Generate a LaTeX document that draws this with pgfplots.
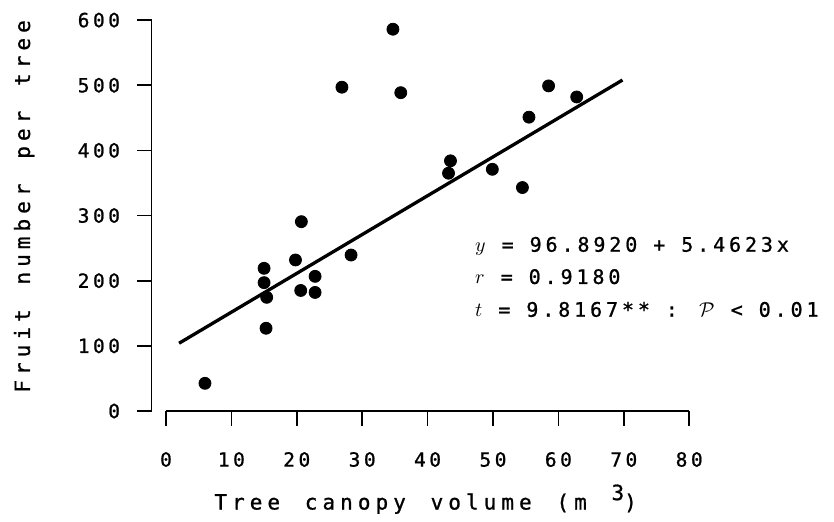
\documentclass[border=0pt]{standalone}
\usepackage{fontspec}
\setmainfont{DejaVu Sans Mono}[LetterSpace=18, FakeBold=1]
\newfontfamily\labfont{DejaVu Sans Mono}[LetterSpace=24, WordSpace=1.4, FakeBold=1]
\newfontfamily\annfont{DejaVu Sans Mono}[LetterSpace=19.5, FakeBold=1]
\usepackage{pgfplots}
\pgfplotsset{compat=1.18}

\begin{document}
\begin{tikzpicture}
\begin{axis}[
  x=3.27pt, y=0.32575pt,
  xmin=0, xmax=80, ymin=0, ymax=600,
  axis x line=bottom, axis y line=left,
  axis line style={-, line width=0.8pt},
  axis y line shift=7.15pt,
  xtick={0,10,...,80}, ytick={0,100,...,600},
  tick align=outside, major tick length=7.3pt,
  tick style={line width=0.8pt, black},
  font=\fontsize{9.75}{11}\selectfont,
  /pgf/number format/assume math mode=true,
  xticklabel style={anchor=base, yshift=-20.5pt},
  yticklabel style={anchor=east, xshift=-5pt},
  clip=false,
  xlabel={\labfont\fontsize{10.5}{12}\selectfont Tree canopy volume (m \raisebox{0.45em}{3})},
  xlabel style={at={(axis cs:39.7,-151.2)}, anchor=base},
  ylabel={\labfont\fontsize{10.5}{12}\selectfont Fruit number per tree},
  ylabel style={at={(axis cs:-20.8,314)}, anchor=base},
]
% observations
\addplot[only marks, mark=*, mark size=3pt, black] coordinates {
  (5.96,42.5) (15.0,219) (15.0,197) (15.4,174.5) (15.3,127)
  (20.7,290.6) (19.8,231.8) (20.6,185) (22.8,206.7) (22.8,182)
  (28.3,239.4) (26.9,497) (34.7,586) (35.9,488.6) (43.5,384)
  (43.2,365) (49.9,371) (54.5,343) (55.5,451) (58.5,499) (62.8,482)
};
% fitted line
\addplot[black, line width=1.65pt] coordinates {(2,104) (69.8,508)};

\node[anchor=base west, font=\annfont] at (axis cs:46.2,244.5) {$y$ = 96.8920 + 5.4623x};
\node[anchor=base west, font=\annfont] at (axis cs:46.2,195) {$r$ = 0.9180};
\node[anchor=base west, font=\annfont] at (axis cs:46.2,144.7) {$t$ = 9.8167** : $\mathcal{P}$ < 0.01};

% page frame of the reference
\path (axis cs:-25.38,-168.84) rectangle (axis cs:102.14,630.85);
\end{axis}
\end{tikzpicture}
\end{document}
